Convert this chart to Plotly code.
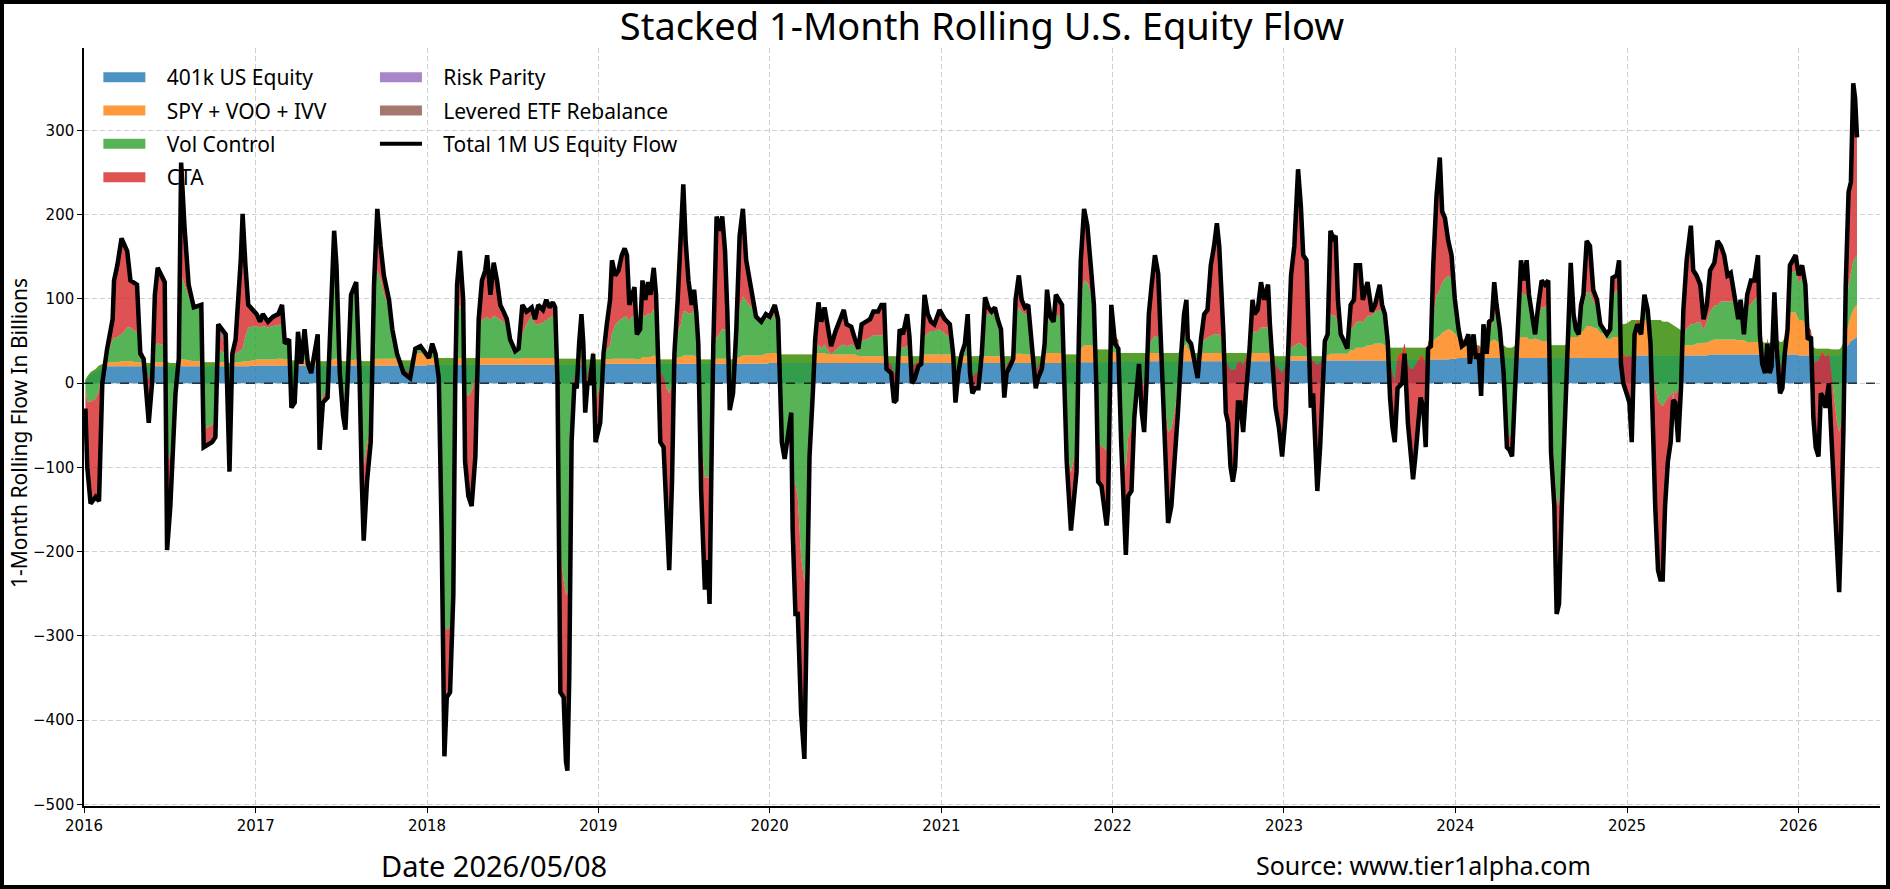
#Stacked 1-Month Rolling U.S. Equity Flow
import plotly.graph_objects as go

# sample dates (one line per year)
dates = [
    "2016-01-04","2016-01-08","2016-01-15","2016-01-26","2016-02-02","2016-02-09","2016-02-19","2016-03-02","2016-03-05","2016-03-12","2016-03-21","2016-04-02","2016-04-09","2016-04-23","2016-04-30","2016-05-07","2016-05-18","2016-05-25","2016-05-31","2016-06-06","2016-06-21","2016-06-26","2016-07-03","2016-07-14","2016-07-21","2016-07-26","2016-08-02","2016-08-11","2016-08-22","2016-09-07","2016-09-12","2016-09-30","2016-10-07","2016-10-13","2016-10-29","2016-11-06","2016-11-12","2016-11-19","2016-11-30","2016-12-04","2016-12-10","2016-12-16",
    "2017-01-03","2017-01-10","2017-01-16","2017-01-27","2017-02-07","2017-02-18","2017-02-26","2017-03-04","2017-03-13","2017-03-18","2017-03-25","2017-04-01","2017-04-08","2017-04-15","2017-04-22","2017-04-29","2017-05-06","2017-05-13","2017-05-17","2017-05-24","2017-06-03","2017-06-10","2017-06-17","2017-06-22","2017-06-29","2017-07-06","2017-07-11","2017-07-16","2017-07-23","2017-08-03","2017-08-10","2017-08-15","2017-08-19","2017-08-26","2017-09-03","2017-09-10","2017-09-17","2017-09-24","2017-10-01","2017-10-12","2017-10-19","2017-10-29","2017-11-12","2017-11-26","2017-12-07","2017-12-18","2017-12-29",
    "2018-01-05","2018-01-12","2018-01-19","2018-01-26","2018-01-29","2018-02-01","2018-02-07","2018-02-12","2018-02-19","2018-02-26","2018-03-02","2018-03-06","2018-03-12","2018-03-19","2018-03-23","2018-03-30","2018-04-06","2018-04-14","2018-04-21","2018-04-28","2018-05-05","2018-05-09","2018-05-16","2018-05-23","2018-05-30","2018-06-06","2018-06-13","2018-06-20","2018-06-27","2018-07-08","2018-07-15","2018-07-23","2018-08-01","2018-08-12","2018-08-19","2018-08-26","2018-09-05","2018-09-12","2018-09-19","2018-09-26","2018-10-01","2018-10-06","2018-10-12","2018-10-19","2018-10-24","2018-10-27","2018-10-31","2018-11-05","2018-11-11","2018-11-16","2018-11-21","2018-11-26","2018-11-30","2018-12-04","2018-12-09","2018-12-14","2018-12-21","2018-12-26",
    "2019-01-05","2019-01-12","2019-01-19","2019-01-26","2019-01-30","2019-02-06","2019-02-13","2019-02-20","2019-02-26","2019-03-03","2019-03-08","2019-03-13","2019-03-19","2019-03-24","2019-03-31","2019-04-05","2019-04-11","2019-04-17","2019-04-22","2019-04-29","2019-05-04","2019-05-08","2019-05-13","2019-05-20","2019-05-27","2019-06-01","2019-06-07","2019-06-12","2019-06-19","2019-06-26","2019-07-01","2019-07-06","2019-07-12","2019-07-19","2019-07-24","2019-07-29","2019-08-02","2019-08-08","2019-08-13","2019-08-16","2019-08-22","2019-08-26","2019-08-31","2019-09-03","2019-09-10","2019-09-17","2019-09-22","2019-09-28","2019-10-03","2019-10-08","2019-10-15","2019-10-22","2019-10-29","2019-11-05","2019-11-12","2019-11-19","2019-11-26","2019-12-03","2019-12-14","2019-12-24",
    "2020-01-01","2020-01-12","2020-01-19","2020-01-24","2020-01-27","2020-02-02","2020-02-09","2020-02-16","2020-02-19","2020-02-25","2020-03-01","2020-03-08","2020-03-15","2020-03-21","2020-03-26","2020-04-02","2020-04-07","2020-04-14","2020-04-20","2020-04-27","2020-05-04","2020-05-11","2020-05-20","2020-05-29","2020-06-07","2020-06-13","2020-06-23","2020-07-01","2020-07-08","2020-07-15","2020-07-23","2020-08-02","2020-08-09","2020-08-19","2020-08-26","2020-09-01","2020-09-06","2020-09-16","2020-09-22","2020-09-27","2020-10-04","2020-10-11","2020-10-20","2020-10-25","2020-10-30","2020-11-05","2020-11-13","2020-11-19","2020-11-26","2020-12-03","2020-12-10","2020-12-17","2020-12-28",
    "2021-01-08","2021-01-19","2021-01-26","2021-01-31","2021-02-06","2021-02-13","2021-02-20","2021-02-26","2021-03-03","2021-03-08","2021-03-14","2021-03-21","2021-03-28","2021-04-04","2021-04-11","2021-04-18","2021-04-25","2021-05-01","2021-05-08","2021-05-15","2021-05-20","2021-05-27","2021-06-03","2021-06-08","2021-06-15","2021-06-21","2021-06-28","2021-07-05","2021-07-11","2021-07-16","2021-07-21","2021-07-26","2021-08-03","2021-08-09","2021-08-14","2021-08-21","2021-08-28","2021-09-02","2021-09-08","2021-09-15","2021-09-20","2021-09-25","2021-10-04","2021-10-11","2021-10-16","2021-10-21","2021-10-25","2021-11-01","2021-11-08","2021-11-17","2021-11-22","2021-11-27","2021-12-01","2021-12-08","2021-12-19","2021-12-22","2021-12-29",
    "2022-01-06","2022-01-13","2022-01-19","2022-01-24","2022-01-29","2022-02-03","2022-02-10","2022-02-16","2022-02-21","2022-02-26","2022-03-04","2022-03-09","2022-03-14","2022-03-19","2022-03-25","2022-04-01","2022-04-08","2022-04-15","2022-04-20","2022-04-26","2022-04-29","2022-05-06","2022-05-13","2022-05-20","2022-05-27","2022-06-02","2022-06-07","2022-06-10","2022-06-17","2022-06-24","2022-07-01","2022-07-08","2022-07-15","2022-07-22","2022-07-29","2022-08-05","2022-08-11","2022-08-16","2022-08-21","2022-08-25","2022-08-30","2022-09-04","2022-09-09","2022-09-14","2022-09-19","2022-09-25","2022-09-30","2022-10-06","2022-10-12","2022-10-19","2022-10-26","2022-10-30","2022-11-06","2022-11-13","2022-11-20","2022-11-28","2022-12-02","2022-12-07","2022-12-14","2022-12-21","2022-12-28",
    "2023-01-05","2023-01-10","2023-01-16","2023-01-23","2023-01-31","2023-02-06","2023-02-11","2023-02-18","2023-02-23","2023-02-27","2023-03-04","2023-03-08","2023-03-13","2023-03-19","2023-03-24","2023-03-29","2023-04-04","2023-04-10","2023-04-16","2023-04-21","2023-04-26","2023-05-02","2023-05-09","2023-05-16","2023-05-23","2023-05-30","2023-06-03","2023-06-12","2023-06-18","2023-06-28","2023-07-07","2023-07-14","2023-07-24","2023-07-29","2023-08-04","2023-08-10","2023-08-15","2023-08-20","2023-08-25","2023-08-31","2023-09-10","2023-09-15","2023-09-22","2023-09-28","2023-10-03","2023-10-08","2023-10-14","2023-10-19","2023-10-25","2023-10-30","2023-11-04","2023-11-10","2023-11-15","2023-11-22","2023-11-29","2023-12-04","2023-12-10","2023-12-17","2023-12-24","2023-12-31",
    "2024-01-08","2024-01-15","2024-01-22","2024-01-29","2024-02-01","2024-02-09","2024-02-14","2024-02-20","2024-02-25","2024-03-01","2024-03-08","2024-03-13","2024-03-19","2024-03-24","2024-03-29","2024-04-05","2024-04-13","2024-04-20","2024-04-25","2024-05-01","2024-05-08","2024-05-15","2024-05-20","2024-05-27","2024-06-01","2024-06-06","2024-06-14","2024-06-19","2024-06-26","2024-07-03","2024-07-10","2024-07-17","2024-07-23","2024-07-30","2024-08-04","2024-08-09","2024-08-15","2024-08-22","2024-08-27","2024-09-03","2024-09-09","2024-09-14","2024-09-20","2024-09-25","2024-09-30","2024-10-07","2024-10-14","2024-10-21","2024-10-29","2024-11-05","2024-11-12","2024-11-19","2024-11-26","2024-12-01","2024-12-10","2024-12-15","2024-12-19","2024-12-24","2024-12-31",
    "2025-01-06","2025-01-11","2025-01-17","2025-01-23","2025-01-31","2025-02-07","2025-02-14","2025-02-20","2025-02-25","2025-03-02","2025-03-08","2025-03-13","2025-03-18","2025-03-23","2025-03-29","2025-04-04","2025-04-09","2025-04-14","2025-04-20","2025-04-26","2025-05-01","2025-05-08","2025-05-17","2025-05-22","2025-05-29","2025-06-06","2025-06-13","2025-06-20","2025-06-27","2025-07-06","2025-07-13","2025-07-20","2025-07-27","2025-08-03","2025-08-10","2025-08-19","2025-08-26","2025-08-31","2025-09-07","2025-09-14","2025-09-22","2025-09-29","2025-10-07","2025-10-11","2025-10-16","2025-10-22","2025-10-27","2025-11-01","2025-11-05","2025-11-11","2025-11-16","2025-11-23","2025-11-28","2025-12-03","2025-12-09","2025-12-14","2025-12-21","2025-12-26",
    "2026-01-02","2026-01-09","2026-01-16","2026-01-21","2026-01-28","2026-02-02","2026-02-07","2026-02-13","2026-02-18","2026-02-23","2026-02-28","2026-03-07","2026-03-13","2026-03-19","2026-03-24","2026-03-29","2026-04-02","2026-04-07","2026-04-12","2026-04-18","2026-04-23","2026-04-28","2026-05-02","2026-05-06",
]

# 401k US Equity (billions)
k401 = [
    3,6,10,14,17,19,20,20,20,20, 20,20,20,20,20,20,20,20,20,20, 20,20,20,20,20,20,20,20,20,20, 20,20,20,20,20,20,20,20,20,20, 20,20,
    21,21,21,21,21,21,21,21,21,21, 21,21,21,21,21,21,21,21,21,21, 21,21,21,21,21,21,21,21,21,21, 21,21,21,21,21,21,21,21,21,21, 21,21,21,21,21,21,21,
    22,22,22,22,22,22,22,22,22,22, 22,22,22,22,22,22,22,22,22,22, 22,22,22,22,22,22,22,22,22,22, 22,22,22,22,22,22,22,22,22,22, 22,22,22,22,22,22,22,22,22,22, 22,22,22,22,22,22,22,22,
    23,23,23,23,23,23,23,23,23,23, 23,23,23,23,23,23,23,23,23,23, 23,23,23,23,23,23,23,23,23,23, 23,23,23,23,23,23,23,23,23,23, 23,23,23,23,23,23,23,23,23,23, 23,23,23,23,23,23,23,23,23,23,
    24,24,24,24,24,24,24,24,24,24, 24,24,24,24,24,24,24,24,24,24, 24,24,24,24,24,24,24,24,24,24, 24,24,24,24,24,24,24,24,24,24, 24,24,24,24,24,24,24,24,24,24, 24,24,24,
    24,24,24,24,24,24,24,24,24,24, 24,24,24,24,24,24,24,24,24,24, 24,24,24,24,24,24,24,24,24,24, 24,24,24,24,24,24,24,24,24,24, 24,24,24,24,24,24,25,25,25,25, 25,25,25,25,25,25,25,
    26,26,26,26,26,26,26,26,26,26, 26,26,26,26,26,26,26,26,26,26, 26,26,26,26,26,26,26,26,26,26, 26,26,26,26,26,26,26,26,26,26, 26,26,26,26,26,26,26,26,26,26, 26,26,26,26,26,26,26,26,26,26, 26,
    27,27,27,27,27,27,27,27,27,27, 27,27,27,27,27,27,27,27,27,27, 27,27,27,27,27,27,27,27,27,27, 27,27,27,27,27,27,27,27,27,27, 27,27,28,28,28,28,28,28,28,28, 28,28,28,28,28,28,28,28,29,29,
    30,30,30,30,30,30,30,30,30,30, 30,30,30,30,30,30,30,30,30,30, 30,30,30,30,30,30,30,30,30,30, 30,30,30,30,30,30,30,30,30,30, 30,30,30,30,30,30,30,30,30,30, 30,30,30,30,30,30,30,30,31,
    33,33,33,33,33,33,33,33,33,33, 33,33,33,33,33,33,33,33,33,33, 33,33,33,33,33,33,33,33,34,34, 34,34,34,34,34,34,34,34,34,34, 34,34,34,34,34,34,34,34,34,34, 34,34,34,34,34,34,34,34,
    33,33,33,33,33,33,33,33,33,33, 33,33,33,33,33,33,35,38,42,46, 50,52,54,55,
]

# SPY + VOO + IVV
spy = [
    1,2,3,3,4,4,5,5,5,5, 6,6,6,5,5,5,4,4,5,5, 5,5,4,4,5,8,8,7,6,6, 5,5,5,5,5,4,4,5,5,6, 6,6,
    7,7,7,7,7,8,8,7,7,6, 6,6,6,6,6,5,5,6,5,5, 5,6,8,8,6,5,5,5,6,7, 6,5,5,5,5,7,8,8,8,8, 8,8,6,6,15,15,12,
    8,8,8,8,8,8,8,8,8,8, 8,8,8,8,8,8,8,8,8,8, 8,8,8,8,8,8,8,8,8,7, 7,8,8,8,8,8,8,8,8,8, 8,7,7,7,7,7,7,7,7,7, 7,7,7,6,6,6,6,6,
    5,5,5,5,6,6,6,6,6,6, 6,6,6,5,5,8,8,8,8,10, 8,6,5,5,5,5,5,6,7,8, 10,10,10,10,10,8,7,5,5,5, 5,5,5,5,6,6,6,6,6,5, 5,6,8,10,10,10,10,10,10,12,
    12,12,12,10,10,10,10,10,10,10, 10,10,10,10,10,10,10,12,12,12, 10,10,10,10,10,10,10,10,8,8, 8,8,8,8,8,8,8,8,8,8, 8,8,8,8,8,8,8,8,10,10, 10,10,10,
    10,10,8,8,8,8,8,8,8,8, 8,8,8,8,8,8,8,8,8,8, 8,8,10,11,11,11,10,10,10,8, 8,8,8,10,12,12,12,12,12,12, 10,10,10,10,10,12,15,20,20,20, 18,15,15,15,15,15,12,
    10,10,10,10,10,10,10,10,10,10, 10,10,10,10,10,10,10,10,10,10, 10,10,10,10,12,18,20,15,12,10, 10,10,10,10,10,10,10,10,10,10, 10,10,10,10,10,10,10,10,10,10, 10,10,10,10,10,10,10,8,6,6, 6,
    5,5,5,5,5,5,5,5,5,5, 5,5,5,5,5,6,6,8,8,8, 8,8,8,8,12,12,15,15,15,18, 18,20,20,20,18,16,15,15,15,15, 15,15,14,14,14,14,14,14,14,14, 15,18,22,26,28,32,34,36,34,30,
    22,22,20,20,18,18,15,15,12,15, 15,18,20,22,20,18,15,12,12,12, 15,20,25,25,25,22,22,23,22,20, 20,20,15,15,15,15,15,15,18,25, 25,25,25,30,32,38,38,36,35,30, 28,22,22,25,25,25,40,40,40,
    40,42,42,42,42,42,42,42,42,42, 42,42,40,40,40,38,36,35,32,30, 12,12,12,12,14,14,15,15,16,18, 18,18,18,18,18,18,17,17,17,15, 15,15,15,15,15,14,14,14,15,20, 18,15,15,20,30,50,50,50,
    42,42,38,25,20,10,8,8,8,8, 8,8,7,7,7,7,7,10,15,25, 30,35,37,38,
]

# Vol Control
vol = [
    -10,-30,-35,-35,-30,-5,10,25,30,30, 32,40,40,35,15,10,-20,-10,20,22, 20,-118,-110,-20,10,100,90,75,65,67, -80,-75,-65,15,10,-120,0,10,15,15, 30,40,
    40,38,40,38,40,40,42,25,25,-30, -25,20,0,25,0,-5,5,20,-90,-40, -35,50,123,100,-10,-55,-75,-15,75,80, -10,-100,-125,-100,-70,80,105,95,77,60, 30,5,-10,-15,3,5,2,
    2,12,5,-20,-90,-160,-322,-322,-320,-275, -20,50,63,50,-40,-45,-40,-20,35,45, 48,49,45,50,48,45,42,40,25,10, 12,28,40,50,40,40,42,45,48,50, 50,-20,-228,-263,-280,-280,-250,-60,-20,-20, 10,25,10,-40,-15,-10,10,-50,
    -30,5,12,17,30,40,45,48,50,50, 45,50,50,30,32,50,48,52,50,55, 50,20,-15,-20,-35,-40,-30,10,30,40, 52,52,50,50,55,45,20,-100,-130,-140, -140,-140,-60,0,25,30,35,35,20,-30, -20,25,60,70,65,60,55,45,40,42,
    40,45,35,-30,-100,-118,-88,-68,-150,-153, -170,-240,-270,-236,-110,-40,0,10,5,10, 5,0,5,10,12,10,12,10,5,18, 20,22,25,25,25,25,-5,-10,-20,-20, 10,10,12,5,-10,-10,-5,-5,22,25, 28,28,30,
    25,20,5,-30,-10,5,10,30,-10,-25, -20,-20,5,50,50,50,50,40,30,-30, -10,-5,0,45,55,50,48,50,25,0, -20,-12,-5,15,45,40,35,45,45,40, -25,-110,-140,-120,-110,20,60,77,75,60, 45,-30,-110,-115,-120,-115,40,
    20,15,-70,-120,-140,-100,-90,-50,-30,-10, -30,-40,-20,10,15,20,20,-10,-50,-85, -94,-90,-70,-40,0,10,10,5,5,-5, -20,10,15,18,20,22,22,22,15,5, -10,-15,-20,-20,-20,-10,-10,-15,-5,10, 25,25,25,30,30,30,20,5,-10,-15, -20,
    -10,5,10,12,15,15,12,10,5,-5, -5,-8,-10,-8,-5,10,15,47,45,45, 35,20,15,10,25,28,30,32,30,35, 35,38,40,38,30,15,-15,-30,-40,-10, -5,5,-20,-25,-25,-20,-15,-10,-10,-20, 5,10,30,50,55,60,62,64,60,40,
    8,0,2,8,-10,8,-5,0,-20,10, 0,15,18,30,30,15,-25,-100,-105,-105, -40,30,53,50,50,40,20,5,25,40, 40,45,-90,-150,-185,-190,-150,-70,-20,50, 30,15,10,25,30,40,40,30,25,10, 8,5,10,50,55,55,-30,-35,-40,
    -40,-45,-10,0,-5,10,5,-20,-50,-80, -95,-100,-100,-95,-90,-85,-80,-80,-75,-50, 10,20,25,25,25,25,15,25,35,40, 41,45,45,45,45,45,30,40,10,40, 45,50,55,20,-10,-15,5,-20,-10,30, 5,-30,-25,0,10,45,48,50,
    45,50,40,10,10,-20,-15,-15,-5,-5, -10,-5,-30,-60,-85,-98,-90,-50,30,45, 50,58,58,59,
]

# CTA
cta = [
    -24,-78,-121,-117,-131,-18,5,26,67,85, 114,91,56,57,-5,-6,-51,-14,60,90, 75,-105,-60,-16,-6,134,69,15,-1,0, -21,-20,-24,18,13,-9,11,17,106,160, 84,27,
    14,7,14,7,11,13,22,-6,-1,-26, -25,14,-4,12,-4,-9,4,11,-15,-9, -8,5,29,11,-5,-9,-6,-5,3,12, -5,-43,-88,-43,-26,9,73,39,22,10, 5,1,-5,-6,2,3,0,
    -2,5,0,-4,-22,-45,-141,-73,-77,-6, -10,37,64,19,-83,-119,-136,-97,11,47, 56,73,30,63,44,18,13,6,-3,-1, 0,35,15,10,6,23,15,24,12,16, 10,-9,-168,-139,-198,-209,-129,-39,-9,-15, 8,28,8,-23,-13,-18,-3,-48,
    -45,2,30,54,87,59,60,75,81,73, 19,26,35,0,4,41,20,37,24,49, 24,-14,-83,-84,-145,-210,-115,-4,39,104, 151,84,39,10,23,6,-3,-56,-96,-133, -98,-150,-26,19,144,122,134,93,33,-30, -20,10,84,104,48,29,11,1,0,5,
    3,12,5,-4,-4,-6,-4,-1,-59,-155, -138,-185,-210,-31,-11,-6,18,50,32,44, 25,10,22,32,41,26,21,8,4,20, 21,22,28,28,36,36,-10,-10,-35,-32, 22,16,38,18,-22,-17,-7,-4,49,23, 11,8,23,
    17,16,-2,-25,-10,-2,5,20,-10,-19, -18,-18,-2,20,8,3,8,4,2,-19, -10,-7,-5,19,38,14,8,9,-1,-9, -18,-14,-10,-2,30,3,2,24,18,17, -9,-17,-69,-42,-29,2,46,85,67,23, 5,-10,-47,-47,-89,-75,16,
    -9,-10,-36,-68,-100,-70,-74,-27,-18,-3, -41,-54,-16,36,66,96,74,3,-21,-68, -108,-92,-59,-31,-3,28,43,6,4,-2, -10,6,31,33,84,105,132,105,54,17, -61,-68,-115,-133,-115,-49,-49,-79,-43,-11, 38,21,26,54,33,51,14,-4,-51,-69, -99,
    -57,21,86,119,207,163,108,104,21,-56, -39,-94,-150,-100,-50,7,10,99,92,95, 29,3,0,-4,29,32,68,66,27,40, 5,8,30,8,7,-8,-44,-64,-72,-38, -37,-12,-69,-99,-131,-109,-79,-49,-61,-98, -7,-12,60,118,157,84,72,41,29,1,
    4,-8,-5,0,-15,2,-11,-10,-27,15, -10,10,8,38,13,1,-8,-18,-16,-24, -5,13,38,17,41,13,4,0,16,32, 27,27,-37,-41,-134,-117,-41,-16,-16,38, -3,-6,-7,8,13,61,55,15,9,0, -2,1,2,20,18,36,-17,-35,-43,
    -56,-100,-7,-5,-12,20,7,-8,-83,-141, -202,-208,-206,-124,-76,-56,-1,-11,-60,-19, 32,81,117,64,56,45,13,20,49,51, 76,66,55,31,34,2,-5,8,-3,16, 28,23,48,-11,-16,-21,-6,-10,-19,24, -16,-31,-30,-19,-10,11,14,18,
    8,15,6,-16,-8,-64,-102,-108,-48,-53, -60,-36,-80,-126,-159,-190,-127,-56,30,111, 109,211,189,140,
]

# small flows, only where they show up in the picture
risk_parity_pts = {"2018-02-07": -10, "2018-02-12": -8, "2025-04-09": -8, "2025-11-01": -6, "2026-02-13": -5}
levered_pts = {"2016-10-13": 12, "2016-10-29": 10, "2024-02-25": -10}

risk_parity = [risk_parity_pts.get(d, 0) for d in dates]
levered = [levered_pts.get(d, 0) for d in dates]
total = [a + b + c + d + e + f for a, b, c, d, e, f in zip(k401, spy, vol, cta, risk_parity, levered)]

FONT = "Noto Sans, DejaVu Sans, sans-serif"
TICKFONT = "DejaVu Sans, sans-serif"
W, H = 1890, 889
ML, MR, MT, MB = 84, 10, 48, 83
PW, PH = W - ML - MR, H - MT - MB
PAD = "\u00a0\u00a0\u00a0"

areas = [
    ("401k US Equity", k401, "rgba(31,119,180,0.8)", "legend"),
    ("SPY + VOO + IVV", spy, "rgba(255,127,14,0.8)", "legend"),
    ("Vol Control", vol, "rgba(44,160,44,0.8)", "legend"),
    ("CTA", cta, "rgba(214,39,40,0.8)", "legend"),
    ("Risk Parity", risk_parity, "rgba(148,103,189,0.8)", "legend2"),
    ("Levered ETF Rebalance", levered, "rgba(140,86,75,0.8)", "legend2"),
]

fig = go.Figure()
for name, vals, col, lg in areas:
    fig.add_trace(go.Scatter(x=dates, y=vals, name=name, mode="lines", stackgroup="flow",
                             line=dict(width=0, color=col), fillcolor=col, showlegend=False))

fig.add_trace(go.Scatter(x=dates, y=total, name="Total 1M US Equity Flow", mode="lines",
                         line=dict(color="black", width=4.5), showlegend=False))

# legend entries: wide colour patches like the original
for name, vals, col, lg in areas:
    fig.add_trace(go.Scatter(x=[None], y=[None], name=PAD + name, mode="lines",
                             line=dict(color=col, width=14), legend=lg, legendgroup=name))
fig.add_trace(go.Scatter(x=[None], y=[None], name=PAD + "Total 1M US Equity Flow", mode="lines",
                         line=dict(color="black", width=4), legend="legend2", legendgroup="total"))

fig.update_layout(
    width=W, height=H,
    margin=dict(l=ML, r=MR, t=MT, b=MB),
    plot_bgcolor="white", paper_bgcolor="white",
    font=dict(family=FONT, color="black"),
    title=dict(text="Stacked 1-Month Rolling U.S. Equity Flow", x=0.5, xref="paper", xanchor="center",
               y=1 - 27 / H, yref="container", yanchor="middle", font=dict(size=38, color="black")),
    legend=dict(x=0.008, y=0.988, xanchor="left", yanchor="top", bgcolor="rgba(0,0,0,0)",
                font=dict(size=21), itemwidth=42, tracegroupgap=3, traceorder="grouped"),
    legend2=dict(x=0.162, y=0.988, xanchor="left", yanchor="top", bgcolor="rgba(0,0,0,0)",
                 font=dict(size=21), itemwidth=42, tracegroupgap=3, traceorder="grouped"),
    showlegend=True,
)

fig.update_xaxes(type="date", range=["2016-01-01", "2026-06-24"], dtick="M12", tick0="2016-01-01",
                 tickformat="%Y", showgrid=True, gridcolor="#cfcfcf", griddash="5px,3px", gridwidth=1,
                 showline=True, linecolor="black", linewidth=2, ticks="outside", ticklen=5,
                 tickcolor="black", tickfont=dict(size=15, family=TICKFONT), zeroline=False)
fig.update_yaxes(range=[-502, 398], tickvals=[-500, -400, -300, -200, -100, 0, 100, 200, 300],
                 showgrid=True, gridcolor="#cfcfcf", griddash="5px,3px", gridwidth=1,
                 showline=True, linecolor="black", linewidth=1.5, ticks="outside", ticklen=5,
                 tickcolor="black", tickfont=dict(size=15, family=TICKFONT), zeroline=False)

# dashed zero line and figure frame
fig.add_shape(type="line", xref="paper", yref="y", x0=0, x1=1, y0=0, y1=0,
              line=dict(color="rgba(0,0,0,0.75)", width=1.5, dash="dash"), layer="above")
fig.add_shape(type="rect", xref="paper", yref="paper",
              x0=(-ML + 2) / PW, x1=1 + (MR - 2) / PW, y0=(-MB + 2) / PH, y1=1 + (MT - 2) / PH,
              line=dict(color="black", width=4), fillcolor="rgba(0,0,0,0)", layer="above")

fig.add_annotation(text="1-Month Rolling Flow In Billions", textangle=-90, xref="paper", yref="paper",
                   x=(19 - ML) / PW, y=0.492, xanchor="center", yanchor="middle", showarrow=False,
                   font=dict(size=21))
fig.add_annotation(text="Date 2026/05/08", xref="paper", yref="paper", x=(494 - ML) / PW,
                   y=-59 / PH, xanchor="center", yanchor="middle", showarrow=False, font=dict(size=29))
fig.add_annotation(text="Source: www.tier1alpha.com", xref="paper", yref="paper", x=(1423 - ML) / PW,
                   y=-59 / PH, xanchor="center", yanchor="middle", showarrow=False, font=dict(size=25))

fig.write_html("out.html", config={"displayModeBar": False},
               post_script="document.body.style.margin='0';")
